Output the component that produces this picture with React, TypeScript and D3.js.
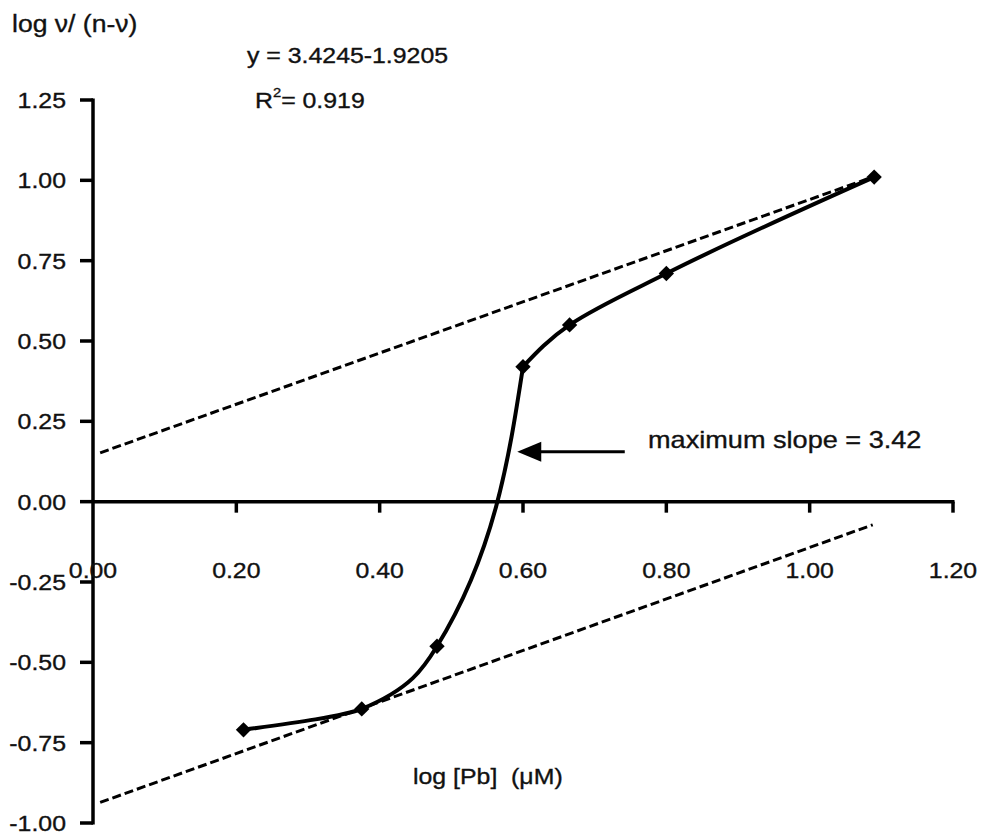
import React from "react";
import * as d3 from "d3";

const W = 982;
const H = 836;

// data
const pbLog = [0.21, 0.375, 0.48, 0.6, 0.665, 0.8, 1.09];
const logRatio = [-0.71, -0.645, -0.45, 0.42, 0.55, 0.71, 1.01];

// tangent (dashed) lines, endpoints
const upperX = [0.01, 1.09];
const upperY = [0.152, 1.012];
const lowerX = [0.01, 1.088];
const lowerY = [-0.936, -0.072];

const xTicks = [0, 0.2, 0.4, 0.6, 0.8, 1.0, 1.2];
const yTicks = [1.25, 1.0, 0.75, 0.5, 0.25, 0.0, -0.25, -0.5, -0.75, -1.0];

// annotation arrow (data units)
const arrowTip = [0.592, 0.155];
const arrowTail = [0.742, 0.155];

const FONT = "'Liberation Sans', Arial, sans-serif";
const SX = 1.13;

function T(props: {
  x: number;
  y: number;
  size: number;
  anchor?: "start" | "middle" | "end";
  children: React.ReactNode;
}) {
  return (
    <text
      transform={`translate(${props.x},${props.y}) scale(${SX},1)`}
      fontSize={props.size}
      textAnchor={props.anchor || "start"}
      fill="#111"
      stroke="#111"
      strokeWidth={0.35}
      style={{ whiteSpace: "pre" }}
    >
      {props.children}
    </text>
  );
}

export default function App() {
  const x = d3.scaleLinear().domain([0, 1.2]).range([93, 953]);
  const y = d3.scaleLinear().domain([-1, 1.25]).range([823, 100]);

  const pts = pbLog.map((v, i) => [x(v), y(logRatio[i])] as [number, number]);
  // smoothed line, drawn in two monotone pieces that meet at the steep point
  const line = d3.line().curve(d3.curveMonotoneY);
  const lowerPiece = line(pts.slice(0, 4).reverse()) || "";
  const upperPiece = line(pts.slice(3).reverse()) || "";

  const straight = d3.line();
  const upperPath = straight(upperX.map((v, i) => [x(v), y(upperY[i])] as [number, number])) || "";
  const lowerPath = straight(lowerX.map((v, i) => [x(v), y(lowerY[i])] as [number, number])) || "";

  const diamond = d3.symbol().type(d3.symbolDiamond2).size(150)() || "";

  const tipX = x(arrowTip[0]);
  const tipY = y(arrowTip[1]);
  const tailX = x(arrowTail[0]);

  const fs = 22;

  return (
    <svg
      width={W}
      height={H}
      style={{ position: "absolute", left: 0, top: 0, background: "#fff" }}
      fontFamily={FONT}
    >
      <rect width={W} height={H} fill="#fff" />

      {/* y axis title */}
      <T x={12} y={32} size={23.5}>log ν/ (n-ν)</T>

      {/* equation */}
      <T x={247} y={63} size={fs}>y = 3.4245-1.9205</T>
      <T x={255} y={108} size={fs}>
        R<tspan dy={-11} fontSize={13}>2</tspan><tspan dy={11}>= 0.919</tspan>
      </T>

      {/* y axis */}
      <line x1={x(0)} x2={x(0)} y1={y(1.25) - 1.5} y2={y(-1) + 1.5} stroke="#000" strokeWidth={3.5} />
      {yTicks.map((t) => (
        <g key={"y" + t}>
          <line x1={x(0) - 13} x2={x(0)} y1={y(t)} y2={y(t)} stroke="#000" strokeWidth={3.5} />
          <T x={66} y={y(t) + 8} size={fs} anchor="end">
            {t.toFixed(2)}
          </T>
        </g>
      ))}

      {/* x axis */}
      <line x1={x(0)} x2={x(1.2) + 1.5} y1={y(0)} y2={y(0)} stroke="#000" strokeWidth={3.5} />
      {xTicks.map((t) => (
        <g key={"x" + t}>
          {t > 0 && (
            <line x1={x(t)} x2={x(t)} y1={y(0)} y2={y(0) + 11} stroke="#000" strokeWidth={3.5} />
          )}
          <T x={x(t)} y={y(0) + 76} size={fs} anchor="middle">
            {t.toFixed(2)}
          </T>
        </g>
      ))}

      {/* x axis title */}
      <T x={413} y={784} size={fs}>{"log [Pb]  (μM)"}</T>

      {/* dashed tangent lines */}
      <path d={upperPath} fill="none" stroke="#000" strokeWidth={3} strokeDasharray="9 4" />
      <path d={lowerPath} fill="none" stroke="#000" strokeWidth={3} strokeDasharray="9 4" />

      {/* data line */}
      <path d={lowerPiece} fill="none" stroke="#000" strokeWidth={4} strokeLinejoin="round" strokeLinecap="round" />
      <path d={upperPiece} fill="none" stroke="#000" strokeWidth={4} strokeLinejoin="round" strokeLinecap="round" />
      {pts.map((p, i) => (
        <path key={"p" + i} d={diamond} transform={`translate(${p[0]},${p[1]})`} fill="#000" />
      ))}

      {/* arrow annotation */}
      <line x1={tailX} x2={tipX + 18} y1={tipY} y2={tipY} stroke="#000" strokeWidth={3} />
      <path d={`M${tipX},${tipY} L${tipX + 24},${tipY - 10} L${tipX + 24},${tipY + 10} Z`} fill="#000" />
      <T x={648} y={tipY - 4} size={24}>maximum slope = 3.42</T>
    </svg>
  );
}
